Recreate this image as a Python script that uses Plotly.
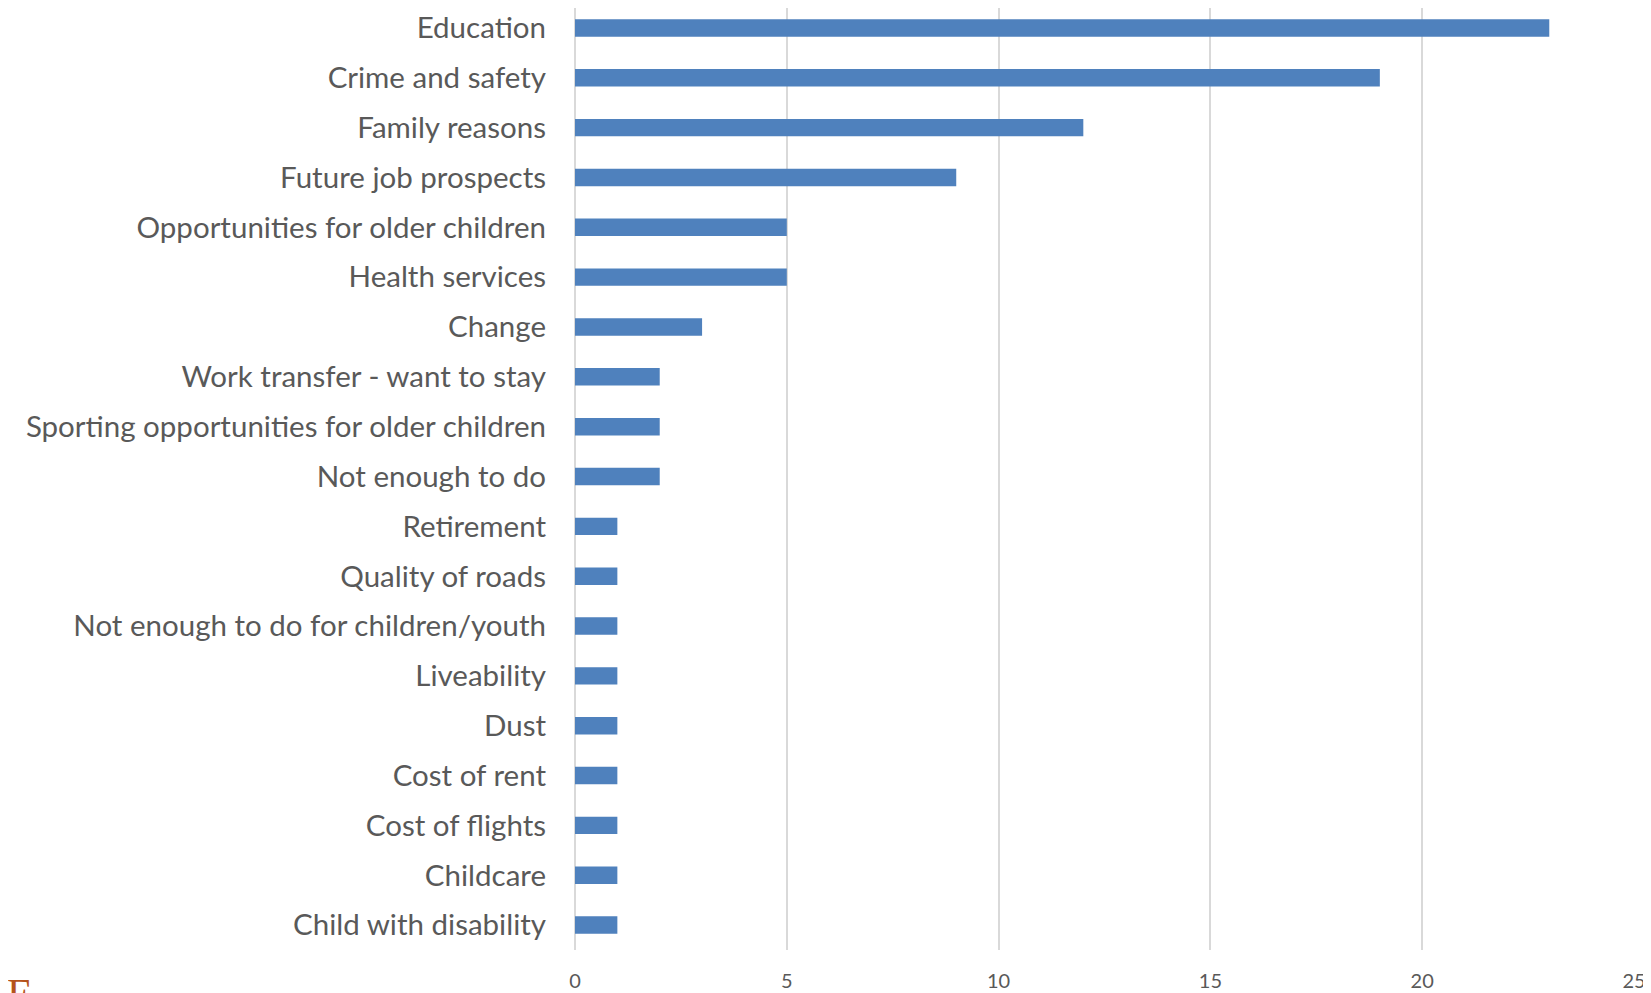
import plotly.graph_objects as go

categories = [
    "Education", "Crime and safety", "Family reasons", "Future job prospects",
    "Opportunities for older children", "Health services", "Change",
    "Work transfer - want to stay", "Sporting opportunities for older children",
    "Not enough to do", "Retirement", "Quality of roads",
    "Not enough to do for children/youth", "Liveability", "Dust",
    "Cost of rent", "Cost of flights", "Childcare", "Child with disability",
]
values = [23, 19, 12, 9, 5, 5, 3, 2, 2, 2, 1, 1, 1, 1, 1, 1, 1, 1, 1]
x_ticks = [0, 5, 10, 15, 20, 25]

# page body has an 8px default margin; size the figure to fit the window
W, H = 1643, 985
L, R, T, B = 567, 17, 0, 43

fig = go.Figure(go.Bar(
    x=values, y=categories, orientation="h",
    marker=dict(color="#4F81BD", line=dict(width=0)),
    width=0.35,
))

fig.update_layout(
    width=W, height=H,
    margin=dict(l=L, r=R, t=T, b=B, pad=0, autoexpand=False),
    paper_bgcolor="white", plot_bgcolor="white",
    showlegend=False,
    font=dict(family="Lato", color="#595959"),
    xaxis=dict(
        range=[0, 25], tickvals=x_ticks, showgrid=True, gridcolor="#D9D9D9",
        gridwidth=1.5, zeroline=True, zerolinecolor="#D9D9D9", zerolinewidth=1.5,
        showline=False, ticks="", tickfont=dict(size=20, color="#595959"),
        ticklabelstandoff=17, automargin=False, fixedrange=True,
    ),
    yaxis=dict(
        categoryorder="array", categoryarray=categories,
        range=[len(categories) - 0.5, -0.4],
        showgrid=False, zeroline=False, showline=False, ticks="",
        tickfont=dict(size=29.5, color="#595959"), ticklabelstandoff=28,
        automargin=False,
    ),
)

fig.add_annotation(
    text="E", xref="paper", yref="paper",
    x=(0 - L) / (W - L - R), y=(H - B - 961) / (H - T - B),
    xanchor="left", yanchor="top", showarrow=False, xshift=-3,
    font=dict(family="Liberation Serif", size=42, color="#B5531C"),
)

fig.write_html("out.html")
